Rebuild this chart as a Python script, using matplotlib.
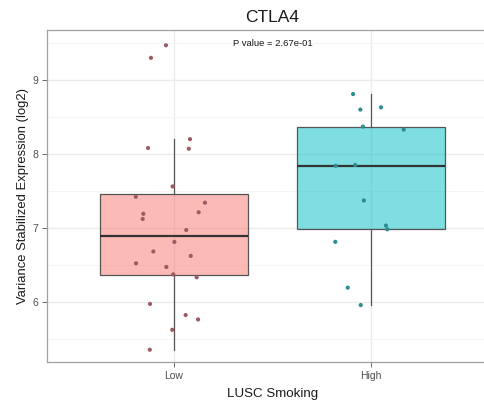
import matplotlib.pyplot as plt
from matplotlib.colors import to_rgb
from matplotlib.ticker import MultipleLocator

plt.rcParams["font.family"] = ["Liberation Sans", "DejaVu Sans"]

# Data
groups = ["Low", "High"]
low_values = [9.47, 9.30, 8.20, 8.08, 8.07, 7.56, 7.42, 7.34, 7.19, 7.12, 7.21, 6.97,
              6.81, 6.68, 6.62, 6.52, 6.47, 6.37, 6.33, 5.97, 5.82, 5.76, 5.62, 5.35]
low_jitter = [-0.041, -0.117, 0.081, -0.132, 0.075, -0.007, -0.194, 0.157, -0.156, -0.159,
              0.125, 0.062, 0.002, -0.105, 0.085, -0.193, -0.039, -0.004, 0.115, -0.122,
              0.059, 0.122, -0.009, -0.123]
high_values = [8.81, 8.60, 8.63, 8.37, 8.33, 7.84, 7.85, 7.37, 7.03, 6.98, 6.81, 6.19, 5.955]
high_jitter = [-0.091, -0.054, 0.051, -0.041, 0.166, -0.179, -0.080, -0.036, 0.076, 0.083,
               -0.181, -0.118, -0.052]
p_value_text = "P value = 2.67e-01"

fill_colors = ["#F8766D", "#00BFC4"]
point_colors = ["#9E5A63", "#2B8C91"]

W, H = 485, 407
fig = plt.figure(figsize=(W / 100, H / 100), dpi=100)
# panel runs past the right edge of the picture, as in the reference
ax = fig.add_axes([47 / W, 1 - 362 / H, 451 / W, 332 / H])

# grid (theme_bw look)
ax.set_axisbelow(True)
ax.yaxis.set_major_locator(MultipleLocator(1))
ax.yaxis.set_minor_locator(MultipleLocator(0.5))
ax.grid(which="major", color="#EBEBEB", linewidth=1.0)
ax.grid(which="minor", axis="y", color="#F4F4F4", linewidth=0.6)

bp = ax.boxplot([low_values, high_values], positions=[1, 2], widths=0.75,
                patch_artist=True, showfliers=False, showcaps=False, whis=1.5,
                medianprops=dict(color="#333333", linewidth=1.6),
                whiskerprops=dict(color="#555555", linewidth=0.9),
                boxprops=dict(edgecolor="#555555", linewidth=0.9))
for patch, c in zip(bp["boxes"], fill_colors):
    patch.set_facecolor((*to_rgb(c), 0.5))

ax.scatter([1 + j for j in low_jitter], low_values, s=9, color=point_colors[0],
           edgecolors="none", zorder=5)
ax.scatter([2 + j for j in high_jitter], high_values, s=9, color=point_colors[1],
           edgecolors="none", zorder=5)

ax.text(1.5, 9.49, p_value_text, ha="center", va="center", fontsize=6.8, color="#1A1A1A")

ax.set_xlim(0.355, 2.645)
ax.set_ylim(5.184, 9.677)
ax.set_xticks([1, 2])
ax.set_xticklabels(groups)
ax.tick_params(axis="both", which="major", length=3.5, width=0.6, color="#555555",
               labelsize=7.5, labelcolor="#4D4D4D", pad=3)
ax.tick_params(axis="y", which="minor", length=0)
for s in ax.spines.values():
    s.set_color("#A0A0A0")
    s.set_linewidth(0.9)
ax.spines["right"].set_visible(False)

ax.set_xlabel("LUSC Smoking", fontsize=9.6, color="#1A1A1A", labelpad=5)
ax.set_ylabel("Variance Stabilized Expression (log2)", fontsize=9.4, color="#1A1A1A",
              labelpad=2)
fig.text(272.5 / W, 1 - 17 / H, "CTLA4", ha="center", va="center", fontsize=12.5,
         color="#1A1A1A")

fig.savefig("out.png", dpi=100)
